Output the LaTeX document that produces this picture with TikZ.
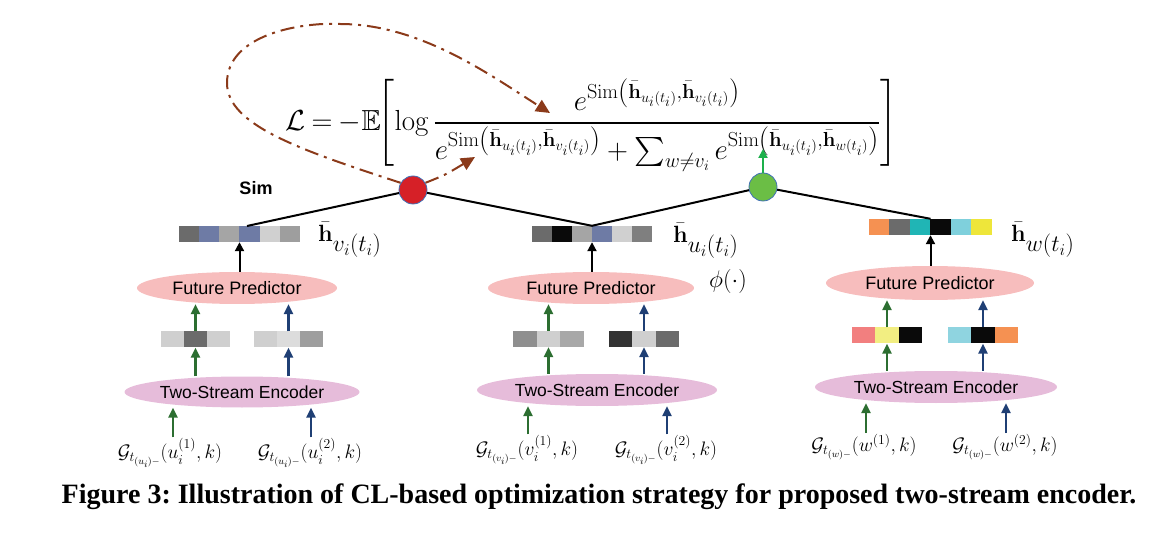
\documentclass[tikz,border=0pt]{standalone}
\usepackage{fix-cm}
\usepackage{amsmath,amssymb}
\usepackage[no-math]{fontspec}
\newfontfamily\sfnt{Liberation Sans}
\newfontfamily\capfont{Liberation Serif}
\usetikzlibrary{shapes.geometric,arrows.meta,calc}
\frenchspacing

\definecolor{gA}{HTML}{6B6B6B}
\definecolor{bgr}{HTML}{6E7BA5}
\definecolor{gB}{HTML}{A5A5A5}
\definecolor{gC}{HTML}{D0D0D0}
\definecolor{gD}{HTML}{9E9E9E}
\definecolor{gE}{HTML}{7F7F7F}
\definecolor{kA}{HTML}{0A0A0A}
\definecolor{orgc}{HTML}{F59152}
\definecolor{tealc}{HTML}{20B5B5}
\definecolor{cyanc}{HTML}{7FD0DC}
\definecolor{yelc}{HTML}{EEE63A}
\definecolor{gF}{HTML}{CFCFCF}
\definecolor{gG}{HTML}{DCDCDC}
\definecolor{gH}{HTML}{8F8F8F}
\definecolor{gI}{HTML}{A8A8A8}
\definecolor{gJ}{HTML}{333333}
\definecolor{salc}{HTML}{F27F7F}
\definecolor{lyelc}{HTML}{F2EE82}
\definecolor{lcyanc}{HTML}{8FD4E0}
\definecolor{predc}{HTML}{F7BDBD}
\definecolor{encc}{HTML}{E6BCDA}
\definecolor{redc}{HTML}{D62027}
\definecolor{grnc}{HTML}{6BBE45}
\definecolor{circb}{HTML}{3F6FB5}
\definecolor{arrg}{HTML}{1DB04B}
\definecolor{strg}{HTML}{2C6E31}
\definecolor{strb}{HTML}{1F3F74}
\definecolor{brn}{HTML}{8B3A1A}

\newcommand{\featrow}[6]{%
  \node[inner sep=0pt, minimum width=#4*#5, minimum height=16] (#1) at (#2,#3) {};
  \foreach \cc [count=\i] in {#6} {%
    \fill[fill=\cc] ($(#1.north west)+(\i*#5-#5,0)$) rectangle ++(#5,16);
  }%
}

\tikzset{
  pred/.style={ellipse, fill=predc, inner sep=0pt, minimum width=204, minimum height=32,
    font=\sfnt\fontsize{18}{20}\selectfont},
  enc/.style={ellipse, fill=encc, inner sep=0pt, minimum width=238, minimum height=32,
    font=\sfnt\fontsize{17.5}{20}\selectfont},
  simc/.style={circle, draw=circb, line width=0.8pt, inner sep=0pt, minimum size=28},
  blk/.style={line width=2pt, -{Triangle[length=9pt,width=9pt]}},
  gstr/.style={line width=2.4pt, strg, -{Triangle[length=10pt,width=9pt]}},
  bstr/.style={line width=2.4pt, strb, -{Triangle[length=10pt,width=9pt]}},
  link/.style={line width=2pt, black},
  brarrow/.style={line width=2pt, brn, dash pattern=on 14pt off 6pt on 3pt off 6pt,
    -{Triangle[length=14pt,width=13pt]}},
  hlab/.style={anchor=west, inner sep=0pt, font=\fontsize{23.5}{27}\selectfont},
  inlab/.style={inner sep=1pt, font=\fontsize{19.5}{22}\selectfont},
}

\begin{document}
\begin{tikzpicture}[x=1pt,y=-1pt]
\useasboundingbox (0,0) rectangle (1164,534);

% formula
\node[anchor=west, inner sep=0pt, font=\fontsize{29}{34}\selectfont] (loss) at (285,125)
 {$\displaystyle \mathcal{L} \mkern-1mu=\mkern-1mu -\mathbb{E}\mkern-2mu\Biggl[\log\frac{e^{\mathrm{Sim}\left(\bar{\mathbf{h}}_{u_i(t_i)},\bar{\mathbf{h}}_{v_i(t_i)}\right)}}{e^{\mathrm{Sim}\left(\bar{\mathbf{h}}_{u_i(t_i)},\bar{\mathbf{h}}_{v_i(t_i)}\right)}+\sum_{w\neq v_i}e^{\mathrm{Sim}\left(\bar{\mathbf{h}}_{u_i(t_i)},\bar{\mathbf{h}}_{w(t_i)}\right)}}\Biggr]$};

% similarity circles
\node[simc, fill=redc] (red) at (413,190) {};
\node[simc, fill=grnc] (green) at (763,187) {};
\node[font=\sfnt\bfseries\fontsize{18}{20}\selectfont] (sim) at (256,188) {Sim};

% feature rows
\featrow{hv}{239.5}{234}{6}{20.2}{gA,bgr,gB,bgr,gC,gD}
\featrow{hu}{592}{234}{6}{20}{gA,kA,gB,bgr,gC,gE}
\featrow{hw}{930.5}{227}{6}{20.5}{orgc,gA,tealc,kA,cyanc,yelc}

\node[hlab] (lhv) at (318,240) {$\bar{\mathbf{h}}_{\textstyle v_i(t_i)}$};
\node[hlab] (lhu) at (673,241) {$\bar{\mathbf{h}}_{\textstyle u_i(t_i)}$};
\node[hlab] (lhw) at (1011,240) {$\bar{\mathbf{h}}_{\textstyle w(t_i)}$};
\node[font=\fontsize{24}{28}\selectfont] (phi) at (728,282) {$\phi(\cdot)$};

\coordinate (hvtop) at (247,226);
\draw[link] (red) -- (hvtop);
\draw[link] (red) -- (hu.north);
\draw[link] (green) -- (hu.north);
\draw[link] (green) -- (hw.north);

\coordinate (gtip) at (763,149);
\draw[line width=2pt, arrg, -{Triangle[length=9pt,width=9pt]}] (green.north) -- (gtip);

% brown dash-dot arrows
\coordinate (b1) at (550,113);
\coordinate (b2) at (475,157);
\draw[brarrow] (red.150) .. controls (300,150) and (227,125) .. (227,83)
   .. controls (227,35) and (300,22) .. (340,24)
   .. controls (420,24) and (490,75) .. (b1);
\draw[brarrow] (red.30) .. controls (445,175) .. (b2);

% predictors
\node[pred, minimum width=200] (p1) at (237,288) {Future Predictor};
\node[pred, minimum width=206] (p2) at (591,288) {Future Predictor};
\node[pred, minimum width=208, minimum height=34] (p3) at (930,283) {Future Predictor};

\draw[blk] (p1.north -| hv) -- (hv.south);
\draw[blk] (p2.north -| hu) -- (hu.south);
\draw[blk] (p3.north -| hw) -- (hw.south);

% small feature rows
\featrow{a1}{195.5}{339.5}{3}{23}{gF,gA,gF}
\featrow{a2}{288.5}{339.5}{3}{23}{gF,gG,gD}
\featrow{b1r}{548.5}{339}{3}{23.5}{gH,gF,gI}
\featrow{b2r}{644}{339}{3}{23.5}{gJ,gF,gA}
\featrow{c1}{887}{335.5}{3}{23.5}{salc,lyelc,kA}
\featrow{c2}{983}{335.5}{3}{23.5}{lcyanc,kA,orgc}

% encoders
\node[enc, minimum width=235, minimum height=31] (e1) at (242,392) {Two-Stream Encoder};
\node[enc, minimum width=240] (e2) at (597,390) {Two-Stream Encoder};
\node[enc, minimum width=242] (e3) at (936,387) {Two-Stream Encoder};

% stream arrows encoder -> vector -> predictor
\draw[gstr] (a1 |- e1.north) -- (a1.south);
\draw[gstr] (a1.north) -- (a1 |- p1.south);
\draw[bstr] (a2 |- e1.north) -- (a2.south);
\draw[bstr] (a2.north) -- (a2 |- p1.south);
\draw[gstr] (b1r |- e2.north) -- (b1r.south);
\draw[gstr] (b1r.north) -- (b1r |- p2.south);
\draw[bstr] (b2r |- e2.north) -- (b2r.south);
\draw[bstr] (b2r.north) -- (b2r |- p2.south);
\draw[gstr] (c1 |- e3.north) -- (c1.south);
\draw[gstr] (c1.north) -- (c1 |- p3.south);
\draw[bstr] (c2 |- e3.north) -- (c2.south);
\draw[bstr] (c2.north) -- (c2 |- p3.south);

% inputs
\node[inlab] (i1) at (170,453) {$\mathcal{G}_{t_{(u_i)-}}(u_i^{(1)},k)$};
\node[inlab] (i2) at (310,453) {$\mathcal{G}_{t_{(u_i)-}}(u_i^{(2)},k)$};
\node[inlab] (i3) at (527,450) {$\mathcal{G}_{t_{(v_i)-}}(v_i^{(1)},k)$};
\node[inlab] (i4) at (666,450) {$\mathcal{G}_{t_{(v_i)-}}(v_i^{(2)},k)$};
\node[inlab] (i5) at (864,447) {$\mathcal{G}_{t_{(w)-}}(w^{(1)},k)$};
\node[inlab] (i6) at (1005,447) {$\mathcal{G}_{t_{(w)-}}(w^{(2)},k)$};

\draw[gstr] ([xshift=3]i1.north) -- ([xshift=3]i1.north |- e1.south);
\draw[bstr] ([xshift=1]i2.north) -- ([xshift=1]i2.north |- e1.south);
\draw[gstr] ([xshift=1]i3.north) -- ([xshift=1]i3.north |- e2.south);
\draw[bstr] ([xshift=1]i4.north) -- ([xshift=1]i4.north |- e2.south);
\draw[gstr] ([xshift=2]i5.north) -- ([xshift=2]i5.north |- e3.south);
\draw[bstr] ([xshift=1]i6.north) -- ([xshift=1]i6.north |- e3.south);

% caption
\node[anchor=base, inner sep=0pt, font=\capfont\bfseries\fontsize{28}{30}\selectfont] (cap) at (599,503)
 {Figure 3: Illustration of CL-based optimization strategy for proposed two-stream encoder.};
\end{tikzpicture}
\end{document}
